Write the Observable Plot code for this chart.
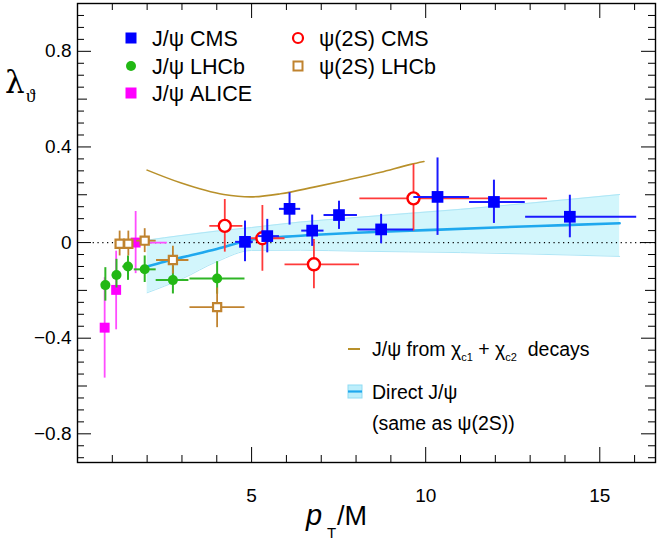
<!DOCTYPE html>
<html>
<head>
<meta charset="utf-8">
<script src="https://cdn.jsdelivr.net/npm/d3@7"></script>
<script src="https://cdn.jsdelivr.net/npm/@observablehq/plot@0.6"></script>
<style>
  html, body { margin: 0; padding: 0; background: #fff; }
  svg { display: block; }
</style>
</head>
<body>
<div id="chart"></div>
<script>
// ---- data: each row = [x, y, xLow, xHigh, yLow, yHigh] ----
const jpsiCMS = [
  [4.81, 0.003, 4.54, 5.05, -0.08, 0.09],
  [5.45, 0.027, 5.20, 5.80, -0.043, 0.097],
  [6.09, 0.141, 5.80, 6.41, 0.073, 0.208],
  [6.74, 0.050, 6.44, 7.08, -0.016, 0.115],
  [7.51, 0.115, 7.08, 8.04, 0.055, 0.173],
  [8.72, 0.055, 8.05, 9.65, -0.005, 0.118],
  [10.34, 0.191, 9.66, 11.26, 0.030, 0.354],
  [11.96, 0.170, 11.26, 12.86, 0.080, 0.261],
  [14.14, 0.108, 12.87, 16.06, 0.020, 0.198]
];
const jpsiLHCb = [
  [0.80, -0.178, 0.70, 0.90, -0.245, -0.105],
  [1.12, -0.136, 1.00, 1.25, -0.190, -0.070],
  [1.45, -0.100, 1.30, 1.60, -0.158, -0.056],
  [1.93, -0.112, 1.63, 2.26, -0.167, -0.056],
  [2.74, -0.157, 2.26, 3.20, -0.215, -0.098],
  [4.01, -0.150, 3.23, 4.81, -0.216, -0.080]
];
const jpsiALICE = [
  [0.78, -0.356, 0.70, 0.90, -0.567, -0.147],
  [1.11, -0.198, 1.00, 1.25, -0.365, -0.036],
  [1.67, 0.000, 1.29, 2.58, -0.130, 0.130]
];
const psi2sCMS = [
  [4.23, 0.070, 3.80, 4.75, -0.040, 0.180],
  [5.31, 0.018, 4.75, 5.96, -0.120, 0.155],
  [6.79, -0.091, 5.96, 8.10, -0.193, 0.013],
  [9.65, 0.185, 8.11, 13.50, 0.048, 0.327]
];
const psi2sLHCb = [
  [1.21, -0.005, 1.10, 1.33, -0.056, 0.048],
  [1.46, -0.005, 1.33, 1.60, -0.056, 0.048],
  [1.93, 0.008, 1.70, 2.26, -0.042, 0.058],
  [2.74, -0.073, 2.27, 3.20, -0.131, -0.015],
  [4.01, -0.270, 3.23, 4.81, -0.356, -0.190]
];
// chi_c feed-down curve
const chiX = [2.0, 2.96, 4.2, 4.97, 5.83, 6.79, 7.75, 8.71, 9.57, 9.95];
const chiY = [0.303, 0.250, 0.201, 0.191, 0.204, 0.232, 0.262, 0.294, 0.327, 0.339];
// direct J/psi central curve
const directX = [2.0, 2.5, 3.0, 4.0, 5.0, 6.0, 7.0, 8.0, 10.0, 12.0, 14.0, 15.57];
const directY = [-0.100, -0.080, -0.062, -0.027, 0.012, 0.025, 0.034, 0.041, 0.052, 0.063, 0.073, 0.081];
// direct J/psi uncertainty band
const bandX  = [2.0, 3.0, 4.0, 5.0, 6.4, 8.0, 11.0, 13.0, 15.57];
const bandLo = [-0.210, -0.152, -0.080, -0.033, -0.032, -0.036, -0.042, -0.048, -0.058];
const bandHi = [0.010, 0.030, 0.048, 0.063, 0.086, 0.105, 0.139, 0.165, 0.201];
// tick labels
const xLabelTicks = [5, 10, 15];
const yLabelTicks = [-0.8, -0.4, 0, 0.4, 0.8];

// ---- layout ----
const W = 658, H = 543, mL = 77, mR = 3, mT = 3, mB = 81;
const frameW = W - mL - mR, frameH = H - mT - mB;
const FONT = "'Liberation Sans', Arial, Helvetica, sans-serif";

const chiData = chiX.map((x, i) => ({x, y: chiY[i]}));
const directData = directX.map((x, i) => ({x, y: directY[i]}));
const bandData = bandX.map((x, i) => ({x, lo: bandLo[i], hi: bandHi[i]}));

const xMinor = d3.range(1, 17).filter(v => v % 5 !== 0);
const yAll = d3.range(-18, 20).map(i => Math.round(i * 5) / 100);
const yLong = yAll.filter(v => Math.round(v * 100) % 40 === 0);
const yMid = yAll.filter(v => Math.round(v * 100) % 40 !== 0 && Math.round(v * 100) % 20 === 0);
const yShort = yAll.filter(v => Math.round(v * 100) % 20 !== 0);

function errorMarks(data, color, width) {
  return [
    Plot.ruleY(data, {y: d => d[1], x1: d => d[2], x2: d => d[3], stroke: color, strokeWidth: width}),
    Plot.ruleX(data, {x: d => d[0], y1: d => d[4], y2: d => d[5], stroke: color, strokeWidth: width})
  ];
}
function leftTicks(list, len) { return Plot.tickY(list, {y: d => d, insetRight: frameW - len, stroke: "black"}); }
function rightTicks(list, len) { return Plot.tickY(list, {y: d => d, insetLeft: frameW - len, stroke: "black"}); }
function bottomTicks(list, len) { return Plot.tickX(list, {x: d => d, insetTop: frameH - len, stroke: "black"}); }
function topTicks(list, len) { return Plot.tickX(list, {x: d => d, insetBottom: frameH - len, stroke: "black"}); }

const fmt = d => d === 0 ? "0" : (d < 0 ? "\u2212" : "") + Math.abs(d);

const svg = Plot.plot({
  width: W, height: H,
  marginLeft: mL, marginRight: mR, marginTop: mT, marginBottom: mB,
  style: {fontFamily: FONT, background: "white", color: "black"},
  x: {domain: [0, 16.6], label: null},
  y: {domain: [-0.92, 1.0], label: null},
  marks: [
    Plot.areaY(bandData, {x: "x", y1: "lo", y2: "hi", fill: "#d2f6fc", curve: "monotone-x"}),
    Plot.lineY(bandData, {x: "x", y: "hi", stroke: "#aee6f6", strokeWidth: 1, curve: "monotone-x"}),
    Plot.lineY(bandData, {x: "x", y: "lo", stroke: "#aee6f6", strokeWidth: 1, curve: "monotone-x"}),
    Plot.ruleY([0], {x1: 0.45, x2: 16.6, stroke: "black", strokeWidth: 1.2, strokeDasharray: "1.2,3.6"}),
    Plot.lineY(chiData, {x: "x", y: "y", stroke: "#b8902a", strokeWidth: 1.6, curve: "monotone-x"}),
    Plot.lineY(directData, {x: "x", y: "y", stroke: "#1fa8ee", strokeWidth: 2.6, curve: "monotone-x"}),

    ...errorMarks(jpsiALICE, "#ff4dff", 1.8),
    Plot.dot(jpsiALICE, {x: d => d[0], y: d => d[1], symbol: "square", fill: "#ff00ff", r: 5.6}),
    ...errorMarks(jpsiLHCb, "#2fb526", 2),
    Plot.dot(jpsiLHCb, {x: d => d[0], y: d => d[1], symbol: "circle", fill: "#22b814", r: 5}),
    ...errorMarks(psi2sLHCb, "#c0832f", 1.8),
    Plot.dot(psi2sLHCb, {x: d => d[0], y: d => d[1], symbol: "square", fill: "white", stroke: "#c0832f", strokeWidth: 2.2, r: 4.6}),
    ...errorMarks(psi2sCMS, "#ff3a3a", 1.8),
    Plot.dot(psi2sCMS, {x: d => d[0], y: d => d[1], symbol: "circle", fill: "white", stroke: "#ff0000", strokeWidth: 2.4, r: 6}),
    ...errorMarks(jpsiCMS, "#1a1aff", 2),
    Plot.dot(jpsiCMS, {x: d => d[0], y: d => d[1], symbol: "square", fill: "#0000ff", r: 6.6}),

    leftTicks(yLong, 14), leftTicks(yMid, 10), leftTicks(yShort, 7),
    rightTicks(yLong, 14), rightTicks(yMid, 10), rightTicks(yShort, 7),
    bottomTicks(xLabelTicks, 15), bottomTicks(xMinor, 7),
    topTicks(xLabelTicks, 15), topTicks(xMinor, 7),
    Plot.axisY({ticks: yLabelTicks, tickSize: 0, tickPadding: 6, tickFormat: fmt, fontSize: 19, label: null}),
    Plot.axisX({ticks: xLabelTicks, tickSize: 0, tickPadding: 26, tickFormat: d => String(d), fontSize: 19, label: null}),
    Plot.frame({stroke: "black", strokeWidth: 1.4})
  ]
});
document.getElementById("chart").appendChild(svg);

// ---- titles and legends ----
const s = d3.select(svg);
const g = s.append("g").attr("font-family", FONT).attr("fill", "black").attr("text-anchor", "start");

// y title  lambda_theta
const yt = g.append("text").attr("x", 5).attr("y", 93)
  .attr("font-family", "'DejaVu Serif', 'Liberation Serif', serif").attr("font-size", 31);
yt.append("tspan").text("\u03bb");
yt.append("tspan").attr("x", 26).attr("dy", 9).attr("font-size", 19)
  .attr("font-family", "'Liberation Serif', serif").text("\u03d1");

// x title  p_T/M
const xt = g.append("text").attr("y", 525).attr("font-size", 27);
xt.append("tspan").attr("x", 306).attr("font-style", "italic").attr("font-size", 29).text("p");
xt.append("tspan").attr("x", 327).attr("dy", 13).attr("font-size", 15).text("T");
xt.append("tspan").attr("x", 337).attr("dy", -13).text("/M");

// top legend
const legFont = 21.5;
const col1M = 131, col1T = 152, col2M = 298, col2T = 319;
const rows = [38, 66, 93];
g.append("rect").attr("x", col1M - 5.5).attr("y", rows[0] - 5.5).attr("width", 11).attr("height", 11).attr("fill", "#0000ff");
g.append("circle").attr("cx", col1M).attr("cy", rows[1]).attr("r", 5).attr("fill", "#22b814");
g.append("rect").attr("x", col1M - 5.5).attr("y", rows[2] - 5.5).attr("width", 11).attr("height", 11).attr("fill", "#ff00ff");
g.append("circle").attr("cx", col2M).attr("cy", rows[0]).attr("r", 5).attr("fill", "white").attr("stroke", "#ff0000").attr("stroke-width", 2.2);
g.append("rect").attr("x", col2M - 4.5).attr("y", rows[1] - 4.5).attr("width", 9).attr("height", 9).attr("fill", "white").attr("stroke", "#c0832f").attr("stroke-width", 2);
const legTexts = [
  [col1T, rows[0], "J/\u03c8 CMS"],
  [col1T, rows[1], "J/\u03c8 LHCb"],
  [col1T, rows[2], "J/\u03c8 ALICE"],
  [col2T, rows[0], "\u03c8(2S) CMS"],
  [col2T, rows[1], "\u03c8(2S) LHCb"]
];
legTexts.forEach(([x, y, t]) => {
  g.append("text").attr("x", x).attr("y", y).attr("dy", "0.36em").attr("font-size", legFont).text(t);
});

// bottom legend
const bl = 19.5;
g.append("line").attr("x1", 348).attr("x2", 360).attr("y1", 349).attr("y2", 349).attr("stroke", "#b8902a").attr("stroke-width", 2);
const t1 = g.append("text").attr("x", 372).attr("y", 349).attr("dy", "0.36em").attr("font-size", bl);
t1.append("tspan").text("J/\u03c8 from \u03c7");
t1.append("tspan").attr("font-size", 11).attr("dy", 5).text("c1");
t1.append("tspan").attr("dy", -5).text(" + \u03c7");
t1.append("tspan").attr("font-size", 11).attr("dy", 5).text("c2");
t1.append("tspan").attr("dy", -5).text("  decays");

g.append("rect").attr("x", 348).attr("y", 385).attr("width", 14).attr("height", 13).attr("fill", "#bdeefb").attr("stroke", "#8fdcf3").attr("stroke-width", 1);
g.append("line").attr("x1", 348).attr("x2", 362).attr("y1", 391.5).attr("y2", 391.5).attr("stroke", "#1fa8ee").attr("stroke-width", 2.2);
g.append("text").attr("x", 372).attr("y", 392).attr("dy", "0.36em").attr("font-size", bl).text("Direct J/\u03c8");
g.append("text").attr("x", 372).attr("y", 423).attr("dy", "0.36em").attr("font-size", bl).text("(same as \u03c8(2S))");
</script>
</body>
</html>
